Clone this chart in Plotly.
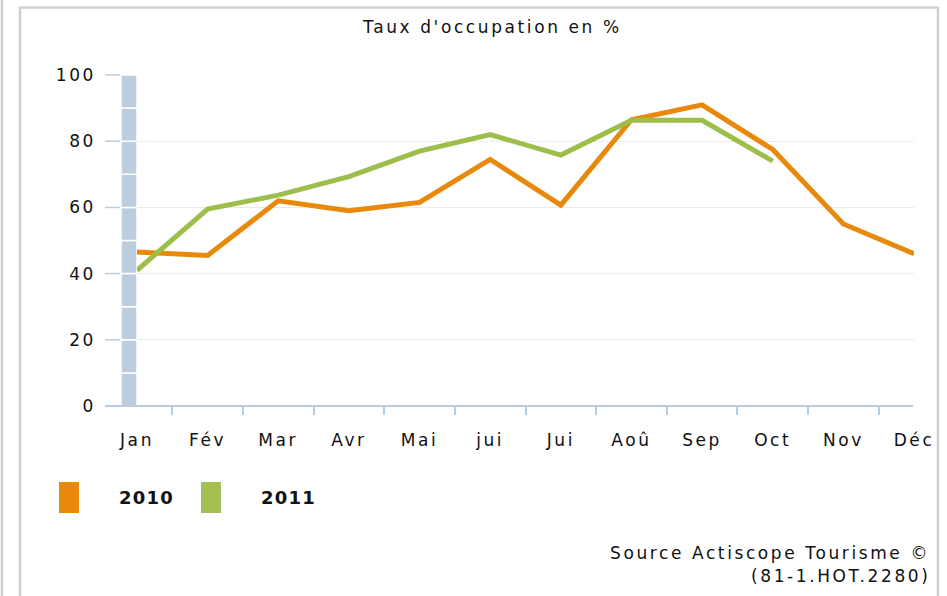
import plotly.graph_objects as go

# ---- data ----
months = ["Jan", "Fév", "Mar", "Avr", "Mai", "jui", "Jui", "Aoû", "Sep", "Oct", "Nov", "Déc"]
taux_2010 = [46.5, 45.5, 62, 59, 61.5, 74.5, 60.7, 86.5, 91, 77.5, 55, 46]
taux_2011 = [41, 59.5, 63.7, 69.3, 77, 82, 75.8, 86.3, 86.3, 74]
y_ticks = [0, 20, 40, 60, 80, 100]
series_names = ["2010", "2011"]
title_text = "Taux d'occupation en %"
source_lines = ["Source Actiscope Tourisme ©", "(81-1.HOT.2280)"]

# ---- styling ----
W, H = 947, 596
L, R, T, B = 137, 33, 75, 190
PW, PH = W - L - R, H - T - B
FONT = "DejaVu Sans"
ORANGE = "#E8890C"
GREEN = "#9DBE4A"
AXBLUE = "#b9cde0"
BARBLUE = "#bccddd"
FRAME = "#cfcfcf"
LS = 2.6


def px(x):
    return (x - L) / PW


def py(y):
    return (T + PH - y) / PH


def sp(t, ls=LS):
    return f'<span style="letter-spacing:{ls}px">{t}</span>'


fig = go.Figure()
fig.add_trace(go.Scatter(x=months, y=taux_2010, mode="lines", name=series_names[0],
                         line=dict(color=ORANGE, width=5), showlegend=False))
fig.add_trace(go.Scatter(x=months[:len(taux_2011)], y=taux_2011, mode="lines", name=series_names[1],
                         line=dict(color=GREEN, width=5), showlegend=False))

shapes = []
# frame lines
shapes.append(dict(type="line", xref="paper", yref="paper", x0=px(2), x1=px(2), y0=py(0), y1=py(H),
                   line=dict(color=FRAME, width=2.5)))
shapes.append(dict(type="line", xref="paper", yref="paper", x0=px(20), x1=px(20), y0=py(7), y1=py(H),
                   line=dict(color=FRAME, width=2.5)))
shapes.append(dict(type="line", xref="paper", yref="paper", x0=px(20), x1=px(938), y0=py(7.5), y1=py(7.5),
                   line=dict(color=FRAME, width=2.5)))
shapes.append(dict(type="line", xref="paper", yref="paper", x0=px(938), x1=px(938), y0=py(7), y1=py(H),
                   line=dict(color=FRAME, width=2.5)))

# segmented blue wall bar
for k in range(10):
    shapes.append(dict(type="rect", xref="paper", yref="paper",
                       x0=px(121), x1=px(137), y0=k / 10, y1=(k + 1) / 10,
                       fillcolor=BARBLUE, line=dict(color="white", width=1.5), layer="below"))
# y tick marks
for v in y_ticks:
    shapes.append(dict(type="line", xref="paper", yref="paper", x0=px(105), x1=px(120),
                       y0=v / 100, y1=v / 100, line=dict(color=AXBLUE, width=1.5)))
# x axis line
shapes.append(dict(type="line", xref="paper", yref="paper", x0=px(105), x1=px(913), y0=0, y1=0,
                   line=dict(color=AXBLUE, width=2)))

# legend keys
shapes.append(dict(type="rect", xref="paper", yref="paper", x0=px(59), x1=px(79), y0=py(513), y1=py(482),
                   fillcolor=ORANGE, line=dict(width=0)))
shapes.append(dict(type="rect", xref="paper", yref="paper", x0=px(201), x1=px(221), y0=py(513), y1=py(482),
                   fillcolor="#A5BF52", line=dict(width=0)))

annotations = [
    dict(text=sp(title_text), xref="paper", yref="paper", x=px(492), y=py(27), xanchor="center",
         yanchor="middle", showarrow=False, font=dict(family=FONT, size=17, color="#111")),
    dict(text=sp("<b>%s</b>" % series_names[0], 1.2), xref="paper", yref="paper", x=px(117), y=py(497),
         xanchor="left", yanchor="middle", showarrow=False, font=dict(family=FONT, size=18, color="#111")),
    dict(text=sp("<b>%s</b>" % series_names[1], 1.2), xref="paper", yref="paper", x=px(259), y=py(497),
         xanchor="left", yanchor="middle", showarrow=False, font=dict(family=FONT, size=18, color="#111")),
    dict(text=sp(source_lines[0]), xref="paper", yref="paper", x=px(932), y=py(553), xanchor="right",
         yanchor="middle", showarrow=False, font=dict(family=FONT, size=17, color="#111")),
    dict(text=sp(source_lines[1]), xref="paper", yref="paper", x=px(932), y=py(576), xanchor="right",
         yanchor="middle", showarrow=False, font=dict(family=FONT, size=17, color="#111")),
]

fig.update_layout(
    width=W, height=H,
    margin=dict(l=L, r=R, t=T, b=B, pad=0),
    paper_bgcolor="white", plot_bgcolor="white",
    showlegend=False,
    shapes=shapes, annotations=annotations,
    xaxis=dict(type="category", categoryorder="array", categoryarray=months,
               range=[0, len(months) - 1], tickmode="array", tickvals=months,
               ticktext=[sp(m) for m in months], tickson="boundaries",
               ticks="outside", ticklen=8, tickwidth=1.5, tickcolor=AXBLUE,
               showgrid=False, showline=False, zeroline=False,
               ticklabelstandoff=22,
               tickfont=dict(family=FONT, size=17, color="#111"), fixedrange=True),
    yaxis=dict(range=[0, 100], tickmode="array", tickvals=y_ticks,
               ticktext=[sp(v) for v in y_ticks], ticks="", showline=False,
               showgrid=True, gridcolor="#ebebeb", gridwidth=1, zeroline=False,
               ticklabelstandoff=40,
               tickfont=dict(family=FONT, size=17, color="#111"), fixedrange=True),
)

fig.write_html("out.html", config={"displayModeBar": False},
               post_script="document.body.style.margin='0';document.body.style.overflow='hidden';")
